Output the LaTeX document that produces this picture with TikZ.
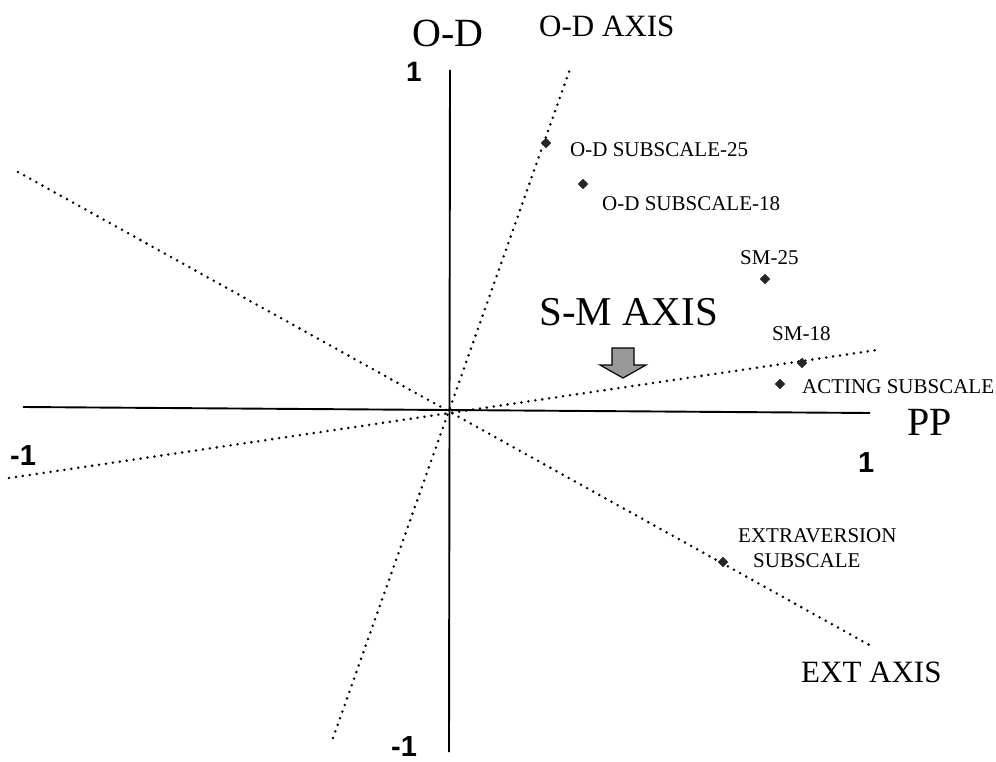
\documentclass[tikz,border=0pt]{standalone}
\usepackage{fontspec}
\setmainfont{Liberation Serif}
\newfontfamily\numfont{Liberation Sans}
\usetikzlibrary{shapes.geometric}
\begin{document}
\begin{tikzpicture}[x=1pt,y=-1pt,
  axisline/.style={line width=1.9pt},
  dotline/.style={line width=2.8pt,line cap=round,dash pattern=on 0pt off 7pt},
  datapt/.style={diamond,fill=black!85,draw=black!85,minimum size=10pt,inner sep=0pt},
  lbl/.style={anchor=base west,inner sep=0pt,font=\fontsize{21}{24}\selectfont},
  biglbl/.style={anchor=base west,inner sep=0pt,font=\fontsize{40}{44}\selectfont},
  axlbl/.style={anchor=base west,inner sep=0pt,font=\fontsize{31}{34}\selectfont},
  numlbl/.style={anchor=base west,inner sep=0pt,font=\numfont\bfseries\fontsize{29}{32}\selectfont},
  blockarrow/.style={draw=black,line width=1.2pt,fill=black!40,line join=miter}]
\useasboundingbox (0,0) rectangle (996,762);
\fill[white] (0,0) rectangle (996,762);
% axes
\coordinate (vtop) at (450,70);
\coordinate (vbot) at (449,752);
\coordinate (hleft) at (23,407);
\coordinate (hright) at (870,413);
\draw[axisline] (vtop) -- (vbot);
\draw[axisline] (hleft) -- (hright);
% dotted axes
\coordinate (odtop) at (570,69);
\coordinate (odbot) at (333,738);
\coordinate (exttl) at (18,172);
\coordinate (extbr) at (873,647);
\coordinate (smleft) at (9,478);
\coordinate (smright) at (877,350);
\draw[dotline] (odbot) -- (odtop);
\draw[dotline] (exttl) -- (extbr);
\draw[dotline] (smleft) -- (smright);
% axis labels
\node[biglbl] (odlabel) at (412,47) {O-D};
\node[biglbl] (pplabel) at (907,435) {PP};
\node[axlbl] (odaxis) at (539,37) {O-D AXIS};
\node[axlbl] (extaxis) at (801,682) {EXT AXIS};
\node[anchor=base west,inner sep=0pt,font=\fontsize{41}{45}\selectfont] (smaxis) at (539,325) {S-M AXIS};
% numbers
\node[numlbl,font=\numfont\bfseries\fontsize{28}{30}\selectfont] (ntop) at (406,82) {1};
\node[numlbl] (nbot) at (391,756) {-1};
\node[numlbl] (nleft) at (10,465) {-1};
\node[numlbl] (nright) at (858,472) {1};
% data points
\node[datapt] (p1) at (546,143) {};
\node[datapt] (p2) at (583,184) {};
\node[datapt] (p3) at (765,279) {};
\node[datapt] (p4) at (802,363) {};
\node[datapt] (p5) at (780,384) {};
\node[datapt] (p6) at (723,562) {};
% point labels
\node[lbl] (l1) at (570,157) {O-D SUBSCALE-25};
\node[lbl] (l2) at (602,211) {O-D SUBSCALE-18};
\node[lbl] (l3) at (740,265) {SM-25};
\node[lbl] (l4) at (772,340) {SM-18};
\node[lbl] (l5) at (802,393) {ACTING SUBSCALE};
\node[lbl] (l6a) at (738,542) {EXTRAVERSION};
\node[lbl] (l6b) at (753,567) {SUBSCALE};
% block arrow
\draw[blockarrow] (612,348) -- (634,348) -- (634,365) -- (646,365) -- (623,378)
  -- (600,365) -- (612,365) -- cycle;
\end{tikzpicture}
\end{document}
